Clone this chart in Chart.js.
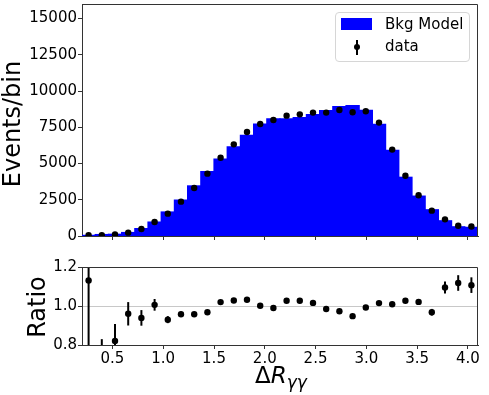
<!DOCTYPE html>
<html>
<head>
<meta charset="utf-8">
<script src="https://cdn.jsdelivr.net/npm/chart.js@4/dist/chart.umd.min.js"></script>
<style>
html,body{margin:0;padding:0;background:#fff;}
#wrap{position:relative;width:489px;height:395px;overflow:hidden;font-family:"DejaVu Sans",sans-serif;color:#000;}
canvas{position:absolute;left:0;}
#c1{top:0;}
#c2{top:250px;}
.ylab{position:absolute;font-size:24px;white-space:nowrap;line-height:1.164;transform:translate(-50%,-50%) rotate(-90deg);}
.lt{position:absolute;font-size:15px;line-height:1.164;white-space:nowrap;}
</style>
</head>
<body>
<div id="wrap">
  <canvas id="c1" width="489" height="250"></canvas>
  <canvas id="c2" width="489" height="145"></canvas>
  <div class="ylab" style="left:12.5px;top:124px;">Events/bin</div>
  <div class="ylab" style="left:37.5px;top:307px;">Ratio</div>
  <div style="position:absolute;left:255px;top:362px;font-size:23px;line-height:1.164;white-space:nowrap;">Δ<i>R</i><span style="font-size:17px;vertical-align:-5px;font-style:italic;">γγ</span></div>
  <div style="position:absolute;left:335px;top:12px;width:135px;height:50px;box-sizing:border-box;border:1px solid #d6d6d6;border-radius:4px;background:rgba(255,255,255,0.8);"></div>
  <div style="position:absolute;left:341px;top:18px;width:31px;height:12px;background:#0000ff;"></div>
  <div class="lt" style="left:385px;top:16px;">Bkg Model</div>
  <div style="position:absolute;left:356px;top:40px;width:2px;height:15px;background:#000;"></div>
  <div style="position:absolute;left:354px;top:44px;width:6px;height:6px;border-radius:50%;background:#000;"></div>
  <div class="lt" style="left:385px;top:38px;">data</div>
</div>
<script>
// ---- data ----
const binCenters = [0.265, 0.395, 0.525, 0.655, 0.785, 0.915, 1.045, 1.175, 1.305, 1.435,
                    1.565, 1.695, 1.825, 1.955, 2.085, 2.215, 2.345, 2.475, 2.605, 2.735,
                    2.865, 2.995, 3.125, 3.255, 3.385, 3.515, 3.645, 3.775, 3.905, 4.035];
const bkgModel = [44, 100, 120, 240, 510, 960, 1655, 2475, 3455, 4440,
                  5295, 6150, 6950, 7710, 8080, 8080, 8170, 8375, 8640, 8930,
                  9000, 8670, 7705, 5905, 4050, 2750, 1810, 1050, 635, 596];
const dataCounts = [50, 60, 100, 230, 480, 965, 1540, 2370, 3310, 4300,
                    5400, 6320, 7170, 7720, 8000, 8300, 8390, 8510, 8510, 8690,
                    8530, 8600, 7820, 5960, 4160, 2810, 1750, 1150, 710, 660];
const ratio = [1.131, 0.55, 0.821, 0.960, 0.939, 1.006, 0.930, 0.958, 0.958, 0.968,
               1.020, 1.028, 1.032, 1.001, 0.990, 1.027, 1.027, 1.016, 0.985, 0.973,
               0.948, 0.992, 1.015, 1.009, 1.027, 1.021, 0.968, 1.095, 1.118, 1.107];
const ratioErr = [0.6, 0.28, 0.087, 0.06, 0.04, 0.03, 0.018, 0.012, 0.010, 0.009,
                  0.008, 0.007, 0.007, 0.007, 0.007, 0.007, 0.007, 0.007, 0.007, 0.007,
                  0.007, 0.007, 0.008, 0.009, 0.011, 0.013, 0.017, 0.031, 0.040, 0.040];
const xTicks = [0.5, 1.0, 1.5, 2.0, 2.5, 3.0, 3.5, 4.0];
const yTicks = [0, 2500, 5000, 7500, 10000, 12500, 15000];
const ratioTicks = [0.8, 1.0, 1.2];
const xRange = [0.2, 4.1];
const yRange = [0, 16000];
const ratioRange = [0.8, 1.2];

const SPINE = '#333';
const FONT = {family: 'DejaVu Sans', size: 15, lineHeight: 1};

function noPad(s) { s.paddingTop = 0; s.paddingBottom = 0; s.paddingLeft = 0; s.paddingRight = 0; }

const framePlugin = {
  id: 'frame',
  afterDraw(chart) {
    const {ctx, chartArea: ca} = chart;
    ctx.save();
    ctx.strokeStyle = SPINE;
    ctx.lineWidth = 1;
    const t = Math.round(ca.top) + 0.5, r = Math.round(ca.right) - 0.5;
    ctx.beginPath();
    ctx.moveTo(ca.left, t);
    ctx.lineTo(r, t);
    ctx.lineTo(r, ca.bottom);
    ctx.stroke();
    ctx.restore();
  }
};

const errPlugin = {
  id: 'errbars',
  beforeDatasetsDraw(chart) {
    const {ctx, chartArea: ca, scales: {x, y}} = chart;
    ctx.save();
    ctx.beginPath();
    ctx.rect(ca.left, ca.top, ca.right - ca.left, ca.bottom - ca.top);
    ctx.clip();
    ctx.strokeStyle = '#000';
    ctx.lineWidth = 2;
    binCenters.forEach((c, i) => {
      const px = x.getPixelForValue(c);
      ctx.beginPath();
      ctx.moveTo(px, y.getPixelForValue(ratio[i] - ratioErr[i]));
      ctx.lineTo(px, y.getPixelForValue(ratio[i] + ratioErr[i]));
      ctx.stroke();
    });
    ctx.restore();
  }
};

const baseOpts = {
  responsive: false,
  animation: false,
  devicePixelRatio: 1,
  plugins: {legend: {display: false}, tooltip: {enabled: false}, title: {display: false}}
};

new Chart(document.getElementById('c1'), {
  type: 'bar',
  data: {
    datasets: [
      {
        type: 'scatter',
        data: binCenters.map((x, i) => ({x: x, y: dataCounts[i]})),
        pointRadius: 3.2,
        pointBackgroundColor: '#000',
        pointBorderWidth: 0,
        order: 0
      },
      {
        type: 'bar',
        data: binCenters.map((x, i) => ({x: x, y: bkgModel[i]})),
        backgroundColor: '#0000ff',
        borderWidth: 0,
        inflateAmount: 0.6,
        barPercentage: 1,
        categoryPercentage: 1,
        grouped: false,
        order: 1
      }
    ]
  },
  options: Object.assign({}, baseOpts, {
    layout: {padding: {left: 0, top: 4, right: 11, bottom: 0}},
    scales: {
      x: {
        type: 'linear', min: xRange[0], max: xRange[1], offset: false,
        grid: {offset: false, drawOnChartArea: false, tickLength: 4, tickColor: SPINE},
        border: {color: SPINE, width: 1},
        ticks: {display: false},
        afterBuildTicks: s => { s.ticks = xTicks.map(v => ({value: v})); },
        afterFit: s => { s.height = 14; noPad(s); }
      },
      y: {
        type: 'linear', min: yRange[0], max: yRange[1],
        grid: {drawOnChartArea: false, tickLength: 4, tickColor: SPINE},
        border: {color: SPINE, width: 1},
        ticks: {font: FONT, color: '#000', padding: 1, callback: v => String(v)},
        afterBuildTicks: s => { s.ticks = yTicks.map(v => ({value: v})); },
        afterFit: s => { s.width = 82; noPad(s); }
      }
    }
  }),
  plugins: [framePlugin]
});

new Chart(document.getElementById('c2'), {
  type: 'scatter',
  data: {
    datasets: [{
      data: binCenters.map((x, i) => ({x: x, y: ratio[i]})),
      pointRadius: 3.2,
      pointBackgroundColor: '#000',
      pointBorderWidth: 0
    }]
  },
  options: Object.assign({}, baseOpts, {
    layout: {padding: {left: 0, top: 17, right: 11, bottom: 0}},
    scales: {
      x: {
        type: 'linear', min: xRange[0], max: xRange[1], offset: false,
        grid: {drawOnChartArea: false, tickLength: 4, tickColor: SPINE},
        border: {color: SPINE, width: 1},
        ticks: {font: FONT, color: '#000', padding: 3, maxRotation: 0, callback: v => v.toFixed(1)},
        afterBuildTicks: s => { s.ticks = xTicks.map(v => ({value: v})); },
        afterFit: s => { s.height = 50; noPad(s); }
      },
      y: {
        type: 'linear', min: ratioRange[0], max: ratioRange[1],
        grid: {
          drawOnChartArea: true, tickLength: 4, tickColor: SPINE, lineWidth: 1,
          color: c => (c.tick && Math.abs(c.tick.value - 1.0) < 1e-6) ? '#c8c8c8' : 'rgba(0,0,0,0)'
        },
        border: {color: SPINE, width: 1},
        ticks: {font: FONT, color: '#000', padding: 1, callback: v => v.toFixed(1)},
        afterBuildTicks: s => { s.ticks = ratioTicks.map(v => ({value: v})); },
        afterFit: s => { s.width = 82; noPad(s); }
      }
    }
  }),
  plugins: [errPlugin, framePlugin]
});
</script>
</body>
</html>
